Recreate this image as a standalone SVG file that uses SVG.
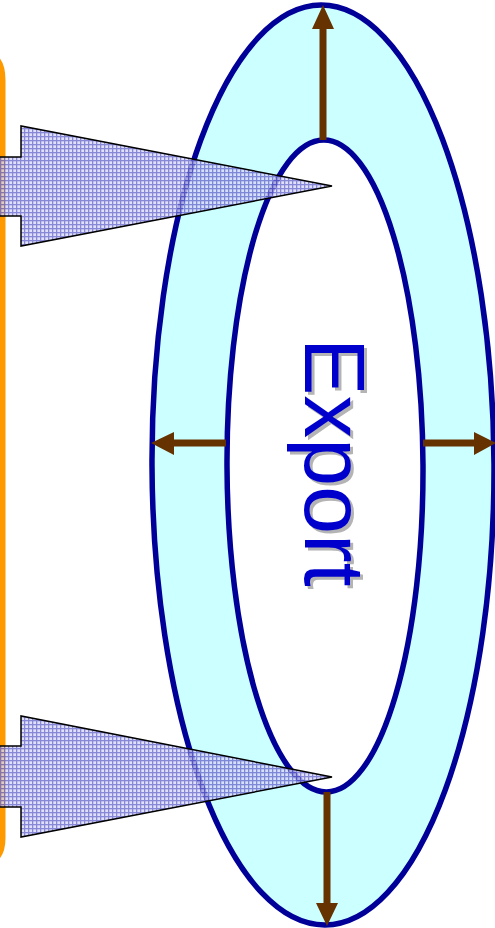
<svg xmlns="http://www.w3.org/2000/svg" width="495" height="928" viewBox="0 0 495 928">
<defs>
<pattern id="grid" width="4" height="4" patternUnits="userSpaceOnUse">
<rect width="4" height="4" fill="#D8D8F4"/>
<rect x="0" y="0" width="4" height="1.3" fill="#6A6AD0"/>
<rect x="0" y="0" width="1.3" height="4" fill="#6A6AD0"/>
</pattern>
<style>
.ring{stroke:#000099;stroke-width:5.5}
.brown{fill:#663300}
.feed{fill:url(#grid);fill-opacity:0.8;stroke:#000;stroke-width:1.5;stroke-linejoin:miter}
.lbl{font-family:"Liberation Sans",Arial,sans-serif;font-size:86px}
</style>
</defs>
<rect width="495" height="928" fill="#fff"/>
<g id="frame">
<path d="M-40,52 L-22,52 Q2.5,52 2.5,80 L2.5,838 Q2.5,864 -22,864 L-40,864" fill="none" stroke="#FF9900" stroke-width="6"/>
</g>
<g id="export-ring" transform="rotate(-0.25 324 466)">
<ellipse class="ring" cx="323" cy="465" rx="171" ry="460" fill="#CCFFFF"/>
<ellipse class="ring" cx="325" cy="466" rx="98" ry="326" fill="#fff"/>
</g>
<g id="export-label">
<text class="lbl" transform="translate(308,341) rotate(90)" fill="#B4B4B4">Export</text>
<text class="lbl" transform="translate(305,338) rotate(90)" fill="#0000CC">Export</text>
</g>
<g id="connectors">
<path class="brown" d="M319.5,140 L319.5,29 L312,29 L323,5 L334,29 L326.5,29 L326.5,140 Z"/>
<path class="brown" d="M323.5,792 L323.5,903 L316,903 L327,926 L338,903 L330.5,903 L330.5,792 Z"/>
<path class="brown" d="M226,439.5 L174,439.5 L174,432 L151,443 L174,455 L174,446.5 L226,446.5 Z"/>
<path class="brown" d="M423,439.5 L474,439.5 L474,432 L496,443 L474,455 L474,446.5 L423,446.5 Z"/>
</g>
<g id="feed-top">
<path class="feed" d="M-5,157 L21,157 L21,126 L332,186 L21,246 L21,216 L-5,216 Z"/>
</g>
<g id="feed-bottom">
<path class="feed" d="M-5,746 L21,746 L21,716 L332,777 L21,837 L21,807 L-5,807 Z"/>
</g>
</svg>
